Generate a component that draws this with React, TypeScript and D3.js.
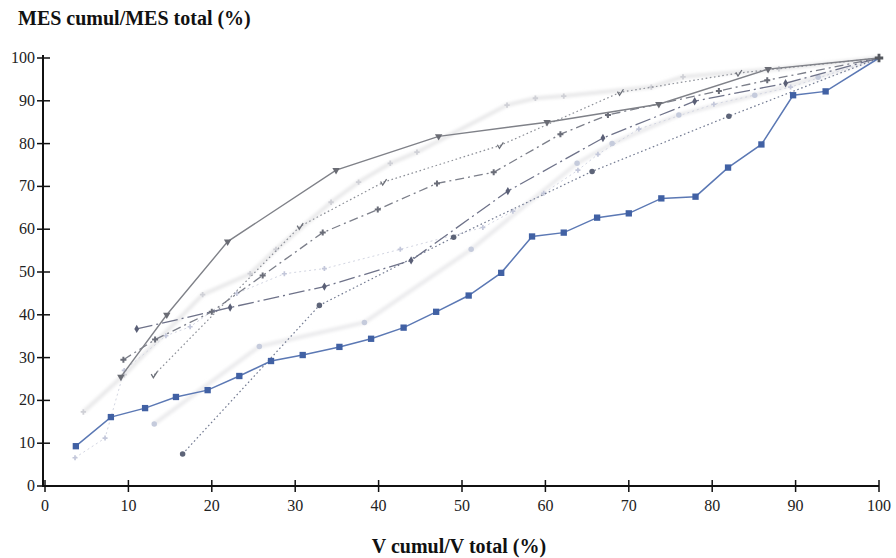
import React from 'react';
import * as d3 from 'd3';

type Pt = [number, number];

// V cumul / V total (%) vs MES cumul / MES total (%)
const seriesBlue: Pt[] = [
  [3.7, 9.3], [7.9, 16.1], [12, 18.2], [15.7, 20.8], [19.5, 22.4], [23.3, 25.7],
  [27.1, 29.2], [30.9, 30.6], [35.3, 32.5], [39.1, 34.4], [43, 37], [46.9, 40.7],
  [50.8, 44.5], [54.7, 49.8], [58.4, 58.3], [62.2, 59.2], [66.2, 62.7], [70, 63.7],
  [73.9, 67.2], [78, 67.6], [81.9, 74.4], [85.9, 79.8], [89.7, 91.3], [93.6, 92.2],
  [100, 100],
];
const seriesSolidGray: Pt[] = [
  [9.1, 25.5], [14.6, 40], [21.9, 57.1], [34.9, 73.8], [47.2, 81.7],
  [60.2, 85], [73.6, 89.2], [86.7, 97.4], [100, 100],
];
const seriesLongDashDot: Pt[] = [
  [11, 36.7], [22.2, 41.7], [33.5, 46.6], [43.9, 52.7], [55.5, 68.9],
  [66.9, 81.3], [77.9, 89.9], [88.8, 94.1], [100, 100],
];
const seriesDashDot: Pt[] = [
  [9.4, 29.5], [13.2, 34.2], [20, 40.7], [26.1, 49.2], [33.3, 59.2], [39.9, 64.6],
  [47, 70.7], [53.8, 73.3], [61.8, 82.2], [67.5, 86.7], [80.8, 92.3], [86.6, 94.8],
  [100, 100],
];
const seriesDottedCheck: Pt[] = [
  [13.1, 26], [30.6, 60.7], [40.6, 71], [54.6, 79.6], [69, 92], [83.2, 96.5], [100, 100],
];
const seriesDottedCircle: Pt[] = [
  [16.5, 7.5], [32.9, 42.2], [49, 58.1], [65.6, 73.5], [82, 86.4], [100, 100],
];
// faint, half-erased series of the scan
const faintUpper: Pt[] = [
  [4.6, 17.3], [9.5, 26], [18.9, 44.7], [24.6, 49.6], [27.7, 55.3], [34.3, 66.3],
  [37.6, 71], [41.4, 75.4], [44.6, 78], [55.4, 89], [58.8, 90.6], [62.2, 91.1],
  [72.7, 93.2], [76.5, 95.6], [88, 97.5], [100, 100],
];
const faintMiddle: Pt[] = [
  [3.6, 6.6], [7.2, 11.2], [9.5, 27], [14.5, 35.1], [17.4, 37.2], [23, 45],
  [28.7, 49.6], [33.5, 50.8], [42.6, 55.3], [52.5, 60.4], [56.1, 64.2], [59.8, 68.4],
  [63.9, 73.8], [66.3, 77.5], [71.2, 83.4], [80.2, 89.2], [89.4, 93.2], [100, 100],
];
const faintLower: Pt[] = [
  [13.1, 14.5], [25.7, 32.6], [38.3, 38.2], [51.1, 55.3], [63.8, 75.4], [68, 80],
  [76, 86.7], [85.1, 91.3], [92.7, 95.5], [100, 100],
];

const xTicks = [0, 10, 20, 30, 40, 50, 60, 70, 80, 90, 100];
const yTicks = [0, 10, 20, 30, 40, 50, 60, 70, 80, 90, 100];

const W = 896;
const H = 558;
const x = d3.scaleLinear().domain([0, 100]).range([45, 879]);
const y = d3.scaleLinear().domain([0, 100]).range([486, 58]);
const line = d3.line<Pt>().x(d => x(d[0])).y(d => y(d[1]));

const checkSymbol = {
  draw(ctx: any, size: number) {
    const r = Math.sqrt(size) / 2;
    ctx.moveTo(-r, -r * 0.2);
    ctx.lineTo(-r * 0.3, r);
    ctx.lineTo(r, -r);
  },
};

const FONT = '"Liberation Serif", "Times New Roman", serif';

function Markers({ data, type, size, fill, stroke, rotate = 0 }: any) {
  const path = d3.symbol().type(type).size(size)() as string;
  return (
    <g>
      {data.map((d: Pt, i: number) => (
        <path
          key={i}
          d={path}
          transform={`translate(${x(d[0])},${y(d[1])}) rotate(${rotate})`}
          fill={fill}
          stroke={stroke || 'none'}
          strokeWidth={stroke ? 1.3 : 0}
        />
      ))}
    </g>
  );
}

export default function App() {
  return (
    <svg
      width={W}
      height={H}
      style={{ position: 'absolute', left: 0, top: 0, background: '#fff' }}
      fontFamily={FONT}
    >
      <defs>
        <filter id="blur" x="-10%" y="-10%" width="120%" height="120%">
          <feGaussianBlur stdDeviation="1.8" />
        </filter>
      </defs>
      <rect width={W} height={H} fill="#fff" />

      {/* faint series */}
      <path d={line(faintUpper)!} fill="none" stroke="#e9e9ea" strokeWidth={4} filter="url(#blur)" />
      <path d={line(faintLower)!} fill="none" stroke="#ebebed" strokeWidth={4} filter="url(#blur)" />
      <path d={line(faintMiddle)!} fill="none" stroke="#d3d6e2" strokeWidth={1} strokeDasharray="2,3" />
      <Markers data={faintUpper.slice(0, -1)} type={d3.symbolCross} size={16} fill="#cfd0d6" />
      <Markers data={faintMiddle.slice(0, -1)} type={d3.symbolCross} size={14} fill="#c3c7da" />
      <Markers data={faintLower.slice(0, -1)} type={d3.symbolCircle} size={24} fill="#c5cbdc" />

      {/* dotted series */}
      <path d={line(seriesDottedCircle)!} fill="none" stroke="#737b92" strokeWidth={1.2} strokeDasharray="1.6,2.6" />
      <Markers data={seriesDottedCircle.slice(0, -1)} type={d3.symbolCircle} size={24} fill="#5d6478" />
      <path d={line(seriesDottedCheck)!} fill="none" stroke="#8d9098" strokeWidth={1.2} strokeDasharray="1.6,2.6" />
      <Markers data={seriesDottedCheck.slice(0, -1)} type={checkSymbol} size={36} fill="none" stroke="#6c6f78" />

      {/* dash-dot series */}
      <path d={line(seriesDashDot)!} fill="none" stroke="#7c7f8a" strokeWidth={1.3} strokeDasharray="9,4,2,4" />
      <Markers data={seriesDashDot.slice(0, -1)} type={d3.symbolCross} size={20} fill="#6a6d78" />
      <path d={line(seriesLongDashDot)!} fill="none" stroke="#6e7289" strokeWidth={1.3} strokeDasharray="16,4,2,4" />
      <Markers data={seriesLongDashDot.slice(0, -1)} type={d3.symbolDiamond} size={20} fill="#5a5f76" />

      {/* solid gray */}
      <path d={line(seriesSolidGray)!} fill="none" stroke="#7f8188" strokeWidth={1.4} />
      <Markers data={seriesSolidGray.slice(0, -1)} type={d3.symbolTriangle} size={24} fill="#6a6c74" rotate={180} />

      {/* blue series */}
      <path d={line(seriesBlue)!} fill="none" stroke="#5b78b4" strokeWidth={1.5} />
      <Markers data={seriesBlue.slice(0, -1)} type={d3.symbolSquare} size={40} fill="#4161a4" />
      <Markers data={[[100, 100] as Pt]} type={d3.symbolCross} size={40} fill="#55585f" />

      {/* axes */}
      <line x1={43} x2={43} y1={55} y2={487} stroke="#111" strokeWidth={2} />
      <line x1={42} x2={879} y1={486} y2={486} stroke="#111" strokeWidth={2} />
      {yTicks.map(t => (
        <g key={'y' + t}>
          <line x1={37} x2={50} y1={y(t)} y2={y(t)} stroke="#111" strokeWidth={1.5} />
          <text x={35} y={y(t) + 5} textAnchor="end" fontSize={16} fill="#222">
            {t}
          </text>
        </g>
      ))}
      {xTicks.map(t => (
        <g key={'x' + t}>
          <line x1={x(t)} x2={x(t)} y1={480} y2={492} stroke="#111" strokeWidth={1.5} />
          <text x={x(t)} y={511} textAnchor="middle" fontSize={16} fill="#222">
            {t}
          </text>
        </g>
      ))}

      <text x={18} y={25} fontSize={20} fontWeight="bold" fill="#111">
        MES cumul/MES total (%)
      </text>
      <text x={459} y={553} textAnchor="middle" fontSize={20} fontWeight="bold" fill="#111">
        V cumul/V total (%)
      </text>
    </svg>
  );
}
